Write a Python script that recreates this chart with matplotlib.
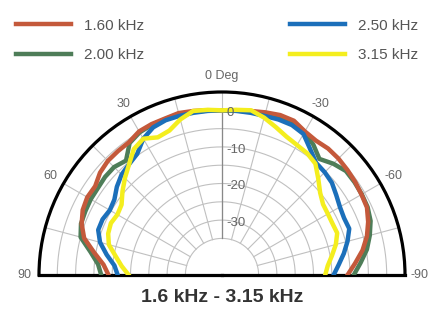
import matplotlib
matplotlib.use("Agg")
import matplotlib.pyplot as plt
import numpy as np

plt.rcParams['font.family'] = ['Liberation Sans', 'DejaVu Sans']

# angle in degrees, 0 = on axis, positive = left side
angles = list(range(90, -95, -5))

# relative level in dB
f160 = [-14, -12.5, -9.5, -6, -4.2, -3, -2.5, -2.7, -1.5, -0.9, -0.8, -0.7, 0.3, 0.5, 0.5, 0.8, 0.5, 0.2, 0,
        0.2, 0.5, 1, 1.5, 1.5, 0.3, -0.2, 0.1, 0, -0.3, -0.6, -1, -1.3, -2.5, -4, -6, -8.5, -10.7]
f200 = [-12, -11, -8.5, -5, -4, -3.8, -3.6, -3.6, -3.3, -3.3, -4.2, -1, 0, 0.3, 0.3, 0.5, 0.3, 0.1, 0,
        0.1, 0.3, 0.8, 1.2, 1, 0, -1.5, -3.6, -2, -0.8, -0.8, -0.9, -1.1, -1.8, -3.2, -4.8, -7, -9]
f250 = [-16.5, -15.5, -13, -10.5, -9, -9, -9.6, -9.1, -7.5, -6.2, -5.5, -4.6, -2, -0.5, 0, 0, 0, 0, 0,
        0, 0, 0, 0.2, 0.2, -0.5, -3, -5, -5.3, -5.8, -6.9, -7.8, -8.2, -8, -9.5, -11.2, -13, -14.5]
f315 = [-19.5, -17.5, -15.5, -13, -11.9, -11.5, -12, -11.5, -9.5, -7.5, -5.5, -3, -2, -3.5, -3, -1, 0.5, 0.3, 0,
        0.3, 0.7, -0.5, -2, -3.3, -4, -4.4, -5.3, -7.8, -10, -11.3, -11.6, -11.7, -11.5, -12.8, -14.5, -16, -16.8]

labels = ['1.60 kHz', '2.00 kHz', '2.50 kHz', '3.15 kHz']
colors = ['#c4593b', '#4e7d58', '#1b6fba', '#f4ee1e']

rings = [-35, -30, -25, -20, -15, -10, -5, 0]
ring_labels = {0: '0', -10: '-10', -20: '-20', -30: '-30'}
theta_labels = [90, 60, 30, -30, -60, -90]

fig = plt.figure(figsize=(4.41, 3.12), dpi=100)
ax = fig.add_axes([39 / 441, 37 / 312, 366 / 441, 183 / 312], projection='polar')
ax.set_theta_zero_location('N')
ax.set_theta_direction(1)
ax.set_thetamin(-90)
ax.set_thetamax(90)
ax.set_ylim(-45, 5)
ax.grid(False)
ax.set_xticks([])
ax.set_yticks([])

for sp in ax.spines.values():
    sp.set_linewidth(2.3)
    sp.set_color('black')
ax.spines['inner'].set_visible(False)

# grid
th = np.radians(np.linspace(-90, 90, 200))
for r in rings:
    ax.plot(th, [r] * len(th), color='#c0c0c0', lw=0.8, zorder=1)
for a in range(-75, 90, 15):
    ax.plot([np.radians(a)] * 2, [-35, 5], color='#c0c0c0', lw=0.8, zorder=1)
ax.plot([0, 0], [-35, 0], color='#888888', lw=0.9, zorder=1)

order = [1, 0, 2, 3]
handles = {}
for i in order:
    vals = [f160, f200, f250, f315][i]
    ln, = ax.plot(np.radians(angles), vals, color=colors[i], lw=3.2, zorder=3,
                  solid_joinstyle='round', label=labels[i])
    handles[i] = ln

for r, t in ring_labels.items():
    ax.annotate(t, xy=(0, r), xytext=(3, -2), textcoords='offset points',
                ha='left', va='center', fontsize=9.5, color='#666666', zorder=5)
for a in theta_labels:
    ax.text(np.radians(a), 9, str(a), ha='center', va='center', fontsize=9,
            color='#666666', clip_on=False)
ax.text(0, 9.5, '0 Deg', ha='center', va='center', fontsize=9, color='#666666', clip_on=False)

leg1 = fig.legend([handles[0], handles[1]], labels[:2], loc='upper left',
                  bbox_to_anchor=(2 / 441, 1 - 5 / 312), frameon=False, fontsize=11,
                  handlelength=3.6, handletextpad=0.9, labelcolor='#555555', labelspacing=1.0)
leg2 = fig.legend([handles[2], handles[3]], labels[2:], loc='upper left',
                  bbox_to_anchor=(276 / 441, 1 - 5 / 312), frameon=False, fontsize=11,
                  handlelength=3.6, handletextpad=0.9, labelcolor='#555555', labelspacing=1.0)

fig.text(222 / 441, 1 - 297 / 312, '1.6 kHz - 3.15 kHz', ha='center', va='center',
         fontsize=14, fontweight='bold', color='#333333')

# fit the half disc: centre at (222, 275) from top, radius 183 px
want_cx, want_cy, want_r = 222, 312 - 275, 183
for _ in range(4):
    fig.canvas.draw()
    c = ax.transData.transform((0, -45))
    e = ax.transData.transform((np.pi / 2, 5))
    rad = np.hypot(*(e - c))
    p = ax.get_position()
    k = want_r / rad
    W, H = fig.bbox.width, fig.bbox.height
    x0, y0 = p.x0 * W, p.y0 * H
    nx0 = want_cx - (c[0] - x0) * k
    ny0 = want_cy - (c[1] - y0) * k
    ax.set_position([nx0 / W, ny0 / H, p.width * k, p.height * k])

fig.savefig('out.png', dpi=100)
